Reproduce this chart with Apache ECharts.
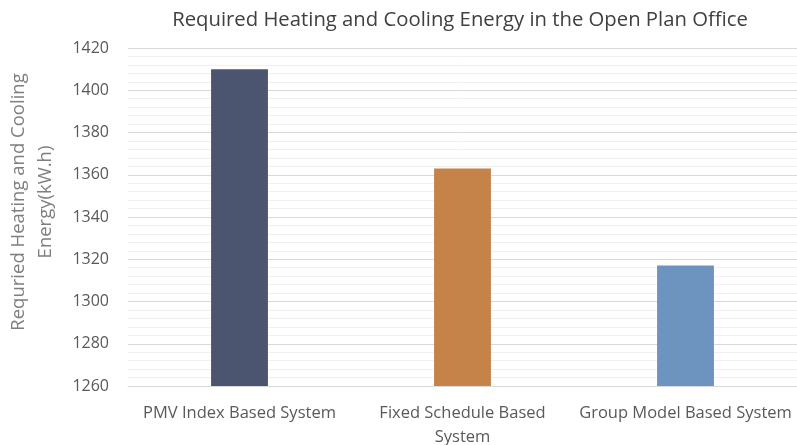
<!DOCTYPE html>
<html>
<head>
    <meta charset="UTF-8">
    <title>Required Heating and Cooling Energy</title>
    <script src="https://cdn.jsdelivr.net/npm/echarts@6/dist/echarts.min.js"></script>
    <style>
        *{margin:0;padding:0;}
        body,html{height:100%;width:100%;background:#fff;}
        #main{width:797px;height:445px;}
    </style>
</head>
<body>
<div id="main"></div>
<script>
    // data
    var categories = ['PMV Index Based System', 'Fixed Schedule Based\nSystem', 'Group Model Based System'];
    var energy = [1410, 1363, 1317];
    var barColors = ['#4b5570', '#c5834a', '#6d94bf'];
    var yMin = 1260, yMax = 1420, yStep = 20;

    var font = 'Open Sans';
    var myChart = echarts.init(document.getElementById('main'));
    var option = {
        animation: false,
        title: {
            text: 'Required Heating and Cooling Energy in the Open Plan Office',
            left: 455,
            textAlign: 'center',
            top: 5,
            textStyle: {fontFamily: font, fontSize: 20.3, fontWeight: 'normal', color: '#404040'}
        },
        grid: {left: 128, right: 0, top: 48, bottom: 59, containLabel: false, outerBoundsMode: 'none'},
        xAxis: {
            type: 'category',
            data: categories,
            axisTick: {show: false},
            axisLine: {lineStyle: {color: '#d9d9d9', width: 1}},
            axisLabel: {fontFamily: font, fontSize: 16.5, color: '#595959', margin: 15, lineHeight: 24, interval: 0}
        },
        yAxis: {
            type: 'value',
            min: yMin,
            max: yMax,
            interval: yStep,
            name: 'Requried Heating and Cooling\nEnergy(kW.h)',
            nameLocation: 'middle',
            nameGap: 69,
            nameTextStyle: {fontFamily: font, fontSize: 18.5, color: '#7f7f7f', lineHeight: 27,
                padding: [0, 0, 0, 30]},
            axisLabel: {fontFamily: font, fontSize: 16, color: '#595959', margin: 19,
                formatter: function (v) { return String(v); }},
            axisLine: {show: false},
            axisTick: {show: false},
            splitLine: {lineStyle: {color: '#d9d9d9', width: 1}},
            minorTick: {show: false, splitNumber: 5},
            minorSplitLine: {show: true, lineStyle: {color: '#f0f0f0', width: 1}}
        },
        series: [{
            type: 'bar',
            data: energy.map(function (v, i) {
                return {value: v, itemStyle: {color: barColors[i]}};
            }),
            barWidth: '25.5%'
        }]
    };
    myChart.setOption(option);
</script>
</body>
</html>
